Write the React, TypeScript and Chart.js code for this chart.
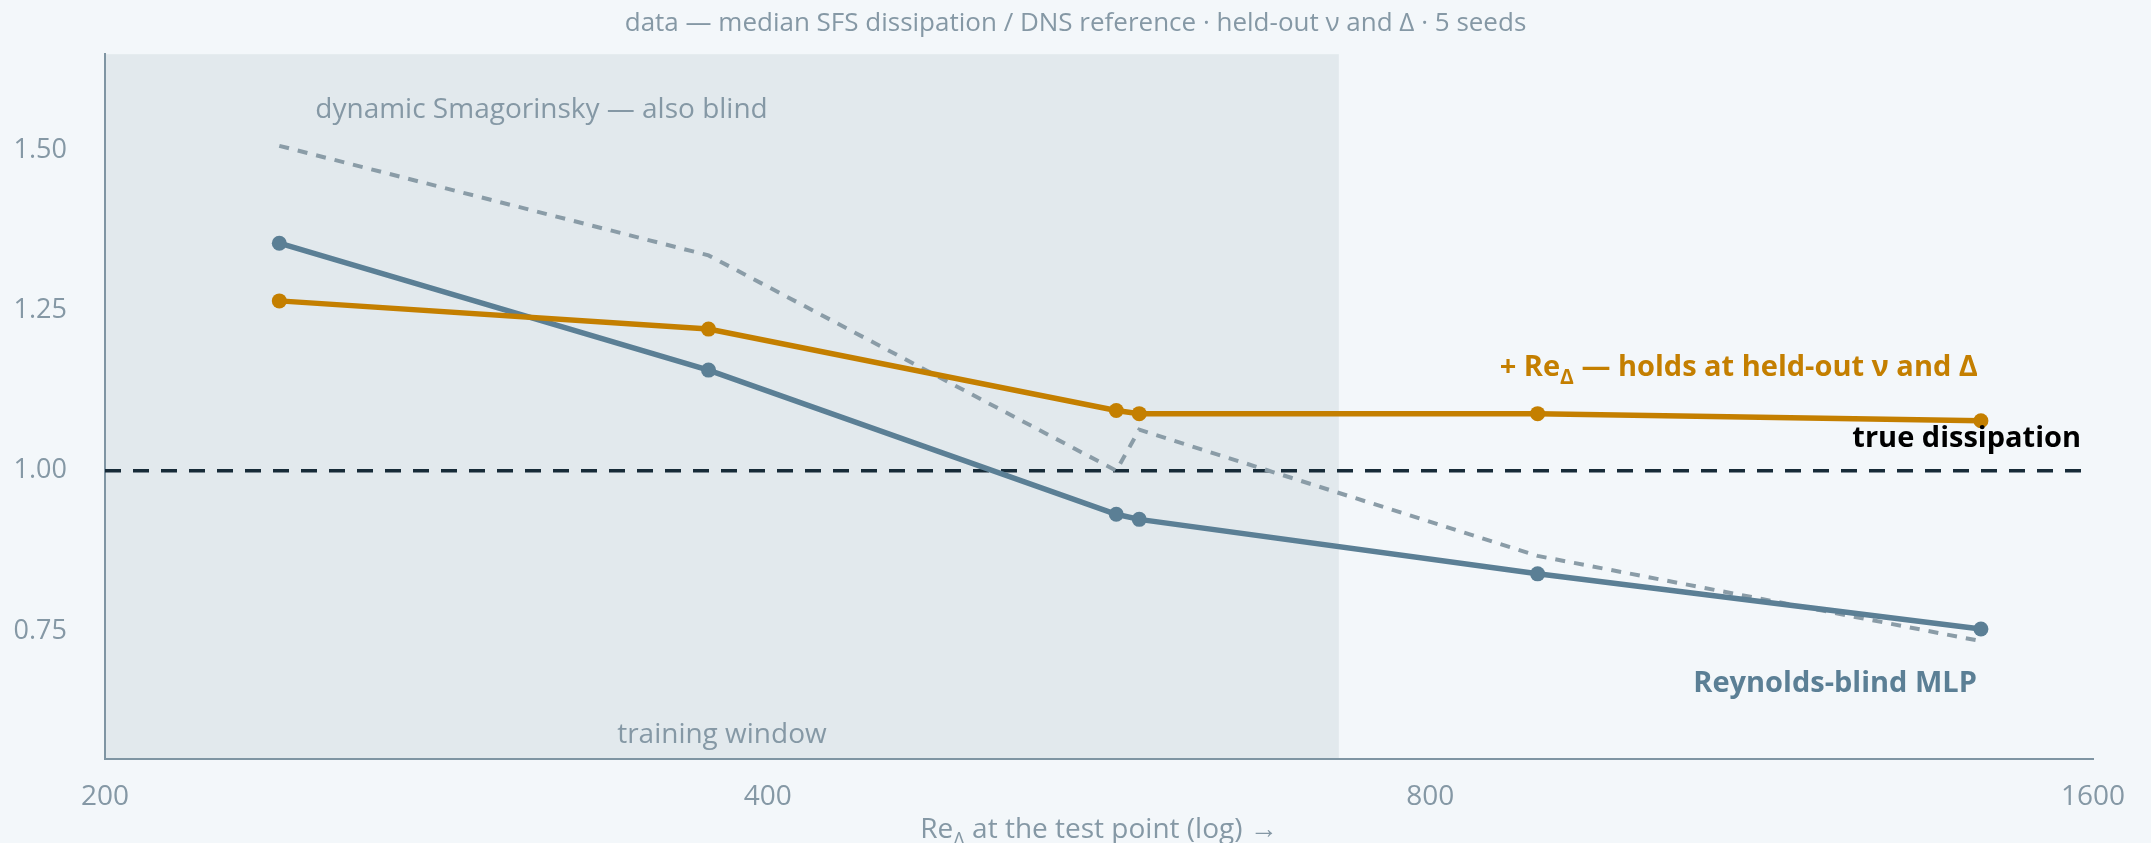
import React, { useEffect, useRef } from "react";
import { Chart, registerables } from "chart.js";

Chart.register(...registerables);

// Re_Δ at each test point (log axis)
const reDelta = [240, 376, 576, 590, 895, 1423];
// median SFS dissipation / DNS reference, per model
const withReDelta = [1.265, 1.221, 1.094, 1.089, 1.089, 1.078];
const reynoldsBlind = [1.355, 1.157, 0.932, 0.924, 0.839, 0.753];
const dynamicSmagorinsky = [1.507, 1.336, 1.0, 1.064, 0.867, 0.734];
// DNS reference level
const trueDissipation = 1.0;
// Re_Δ span seen during training
const trainingWindow = [200, 727];

const xTicks = [200, 400, 800, 1600];
const yTicks = [0.75, 1.0, 1.25, 1.5];
const xRange = [200, 1600];
const yRange = [0.55, 1.65];

const FONT = '"Open Sans", "Noto Sans", sans-serif';
const C = {
  page: "#f3f7fa",
  window: "#e2e9ed",
  orange: "#c47f00",
  blue: "#5b7f95",
  smag: "#8a9ca7",
  truth: "#172b38",
  muted: "#8598a5",
  axis: "#7f95a3",
};

type Part = { text: string; sub?: boolean };

function drawRich(
  ctx: CanvasRenderingContext2D,
  parts: Part[],
  x: number,
  y: number,
  size: number,
  weight: string,
  color: string,
  align: "left" | "center" | "right"
) {
  const fontFor = (p: Part) =>
    `${weight} ${p.sub ? Math.round(size * 0.72) : size}px ${FONT}`;
  let total = 0;
  const widths = parts.map((p) => {
    ctx.font = fontFor(p);
    const w = ctx.measureText(p.text).width;
    total += w;
    return w;
  });
  let cx = align === "left" ? x : align === "center" ? x - total / 2 : x - total;
  ctx.fillStyle = color;
  ctx.textAlign = "left";
  ctx.textBaseline = "alphabetic";
  parts.forEach((p, i) => {
    ctx.font = fontFor(p);
    ctx.fillText(p.text, cx, p.sub ? y + size * 0.28 : y);
    cx += widths[i];
  });
}

const decorations = {
  id: "decorations",
  beforeDraw(chart: any) {
    const { ctx, chartArea, scales } = chart;
    ctx.save();
    ctx.fillStyle = C.page;
    ctx.fillRect(0, 0, chart.width, chart.height);
    const x0 = scales.x.getPixelForValue(trainingWindow[0]);
    const x1 = scales.x.getPixelForValue(trainingWindow[1]);
    ctx.fillStyle = C.window;
    ctx.fillRect(x0, chartArea.top, x1 - x0, chartArea.bottom - chartArea.top);
    ctx.restore();
  },
  afterDatasetsDraw(chart: any) {
    const { ctx, chartArea, scales } = chart;
    const xs = scales.x;
    const ys = scales.y;
    const last = reDelta.length - 1;
    ctx.save();

    // chart title
    drawRich(
      ctx,
      [{ text: "data — median SFS dissipation / DNS reference · held-out ν and Δ · 5 seeds" }],
      chart.width / 2,
      31,
      26,
      "400",
      C.muted,
      "center"
    );

    // training window caption
    const xMid = xs.getPixelForValue(Math.sqrt(trainingWindow[0] * trainingWindow[1]));
    drawRich(ctx, [{ text: "training window" }], xMid, chartArea.bottom - 16, 28, "400", C.muted, "center");

    // baseline model caption
    drawRich(
      ctx,
      [{ text: "dynamic Smagorinsky — also blind" }],
      xs.getPixelForValue(reDelta[0]) + 36,
      ys.getPixelForValue(dynamicSmagorinsky[0]) - 28,
      28,
      "400",
      C.muted,
      "left"
    );

    // series captions
    drawRich(
      ctx,
      [{ text: "+ Re" }, { text: "Δ", sub: true }, { text: " — holds at held-out ν and Δ" }],
      xs.getPixelForValue(reDelta[last]) - 3,
      ys.getPixelForValue(withReDelta[last]) - 45,
      29,
      "700",
      C.orange,
      "right"
    );
    drawRich(
      ctx,
      [{ text: "true dissipation" }],
      chartArea.right - 12,
      ys.getPixelForValue(trueDissipation) - 24,
      29,
      "700",
      "#000000",
      "right"
    );
    drawRich(
      ctx,
      [{ text: "Reynolds-blind MLP" }],
      xs.getPixelForValue(reDelta[last]) - 4,
      ys.getPixelForValue(reynoldsBlind[last]) + 63,
      29,
      "700",
      C.blue,
      "right"
    );

    // x-axis title
    drawRich(
      ctx,
      [{ text: "Re" }, { text: "Δ", sub: true }, { text: " at the test point (log) →" }],
      (chartArea.left + chartArea.right) / 2,
      838,
      28,
      "400",
      C.muted,
      "center"
    );
    ctx.restore();
  },
};

const points = (ys: number[]) => reDelta.map((x, i) => ({ x, y: ys[i] }));

export default function App() {
  const ref = useRef<HTMLCanvasElement | null>(null);

  useEffect(() => {
    if (!ref.current) return;
    const chart = new Chart(ref.current, {
      type: "line",
      data: {
        datasets: [
          {
            label: "+ ReΔ",
            data: points(withReDelta),
            borderColor: C.orange,
            backgroundColor: C.orange,
            borderWidth: 5.5,
            pointRadius: 7.5,
            pointBorderWidth: 0,
            pointHoverRadius: 7.5,
            tension: 0,
            order: 0,
          },
          {
            label: "Reynolds-blind MLP",
            data: points(reynoldsBlind),
            borderColor: C.blue,
            backgroundColor: C.blue,
            borderWidth: 5.5,
            pointRadius: 7.5,
            pointBorderWidth: 0,
            pointHoverRadius: 7.5,
            tension: 0,
            order: 1,
          },
          {
            label: "dynamic Smagorinsky",
            data: points(dynamicSmagorinsky),
            borderColor: C.smag,
            borderWidth: 4,
            borderDash: [10, 9],
            pointRadius: 0,
            tension: 0,
            order: 2,
          },
          {
            label: "true dissipation",
            data: [
              { x: xRange[0], y: trueDissipation },
              { x: xRange[1], y: trueDissipation },
            ],
            borderColor: C.truth,
            borderWidth: 3.5,
            borderDash: [16, 12],
            pointRadius: 0,
            order: 3,
          },
        ],
      },
      options: {
        responsive: false,
        animation: false,
        devicePixelRatio: 1,
        layout: { padding: { left: 0, right: 58, top: 53, bottom: 0 } },
        plugins: {
          legend: { display: false },
          title: { display: false },
          tooltip: { enabled: false },
        },
        scales: {
          x: {
            type: "logarithmic",
            min: xRange[0],
            max: xRange[1],
            afterBuildTicks: (s: any) => {
              s.ticks = xTicks.map((value) => ({ value }));
            },
            afterFit: (s: any) => {
              s.height = 84;
            },
            ticks: {
              callback: (v: any) => String(v),
              color: C.muted,
              font: { family: FONT, size: 28 },
              padding: 21,
              maxRotation: 0,
              autoSkip: false,
            },
            grid: { display: true, color: "transparent", drawTicks: false },
            border: { display: true, color: C.axis, width: 2 },
          },
          y: {
            min: yRange[0],
            max: yRange[1],
            afterBuildTicks: (s: any) => {
              s.ticks = yTicks.map((value) => ({ value }));
            },
            afterFit: (s: any) => {
              s.width = 105;
            },
            ticks: {
              callback: (v: any) => Number(v).toFixed(2),
              color: C.muted,
              font: { family: FONT, size: 27 },
              padding: 38,
            },
            grid: { display: true, color: "transparent", drawTicks: false },
            border: { display: true, color: C.axis, width: 2 },
          },
        },
      },
      plugins: [decorations],
    });
    return () => chart.destroy();
  }, []);

  return (
    <div
      style={{
        position: "fixed",
        left: 0,
        top: 0,
        width: 2151,
        height: 843,
        background: C.page,
      }}
    >
      <canvas ref={ref} width={2151} height={843} style={{ display: "block" }} />
    </div>
  );
}
